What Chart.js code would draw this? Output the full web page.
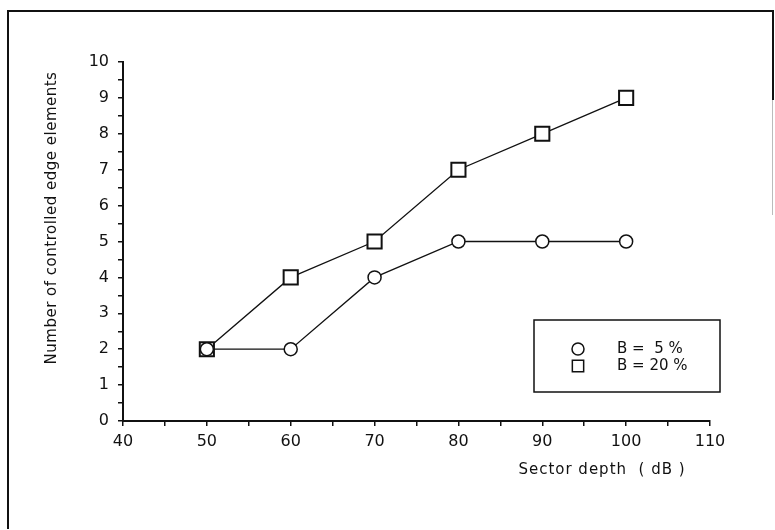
<!DOCTYPE html>
<html>
<head>
<meta charset="utf-8">
<script src="https://cdn.jsdelivr.net/npm/chart.js@4"></script>
<style>
  html, body { margin: 0; padding: 0; background: #fff; }
  #wrap { width: 775px; height: 530px; }
</style>
</head>
<body>
<div id="wrap"><canvas id="plot" width="775" height="530"></canvas></div>
<script>
// data
const depths = [50, 60, 70, 80, 90, 100];      // Sector depth (dB)
const b5 = [2, 2, 4, 5, 5, 5];                  // B = 5 %
const b20 = [2, 4, 5, 7, 8, 9];                 // B = 20 %
const seriesNames = ['B =  5 %', 'B = 20 %'];
const xTicks = [40, 50, 60, 70, 80, 90, 100, 110];
const yTicks = [0, 1, 2, 3, 4, 5, 6, 7, 8, 9, 10];

const FONT = 'DejaVu Sans';

function pts(ys) {
    return depths.map((d, i) => ({ x: d, y: ys[i] }));
}

// frame, axis titles and the boxed legend
const decor = {
    id: 'decor',
    beforeDraw(chart) {
        const c = chart.ctx;
        c.save();
        c.fillStyle = '#fff';
        c.fillRect(0, 0, chart.width, chart.height);
        c.strokeStyle = '#111';
        c.lineWidth = 2;
        c.beginPath();
        c.moveTo(8, 529);
        c.lineTo(8, 11);
        c.lineTo(773, 11);
        c.lineTo(773, 100);
        c.stroke();
        c.strokeStyle = '#bbb';
        c.lineWidth = 1;
        c.beginPath();
        c.moveTo(772.5, 100);
        c.lineTo(772.5, 215);
        c.stroke();
        c.restore();
    },
    afterDraw(chart) {
        const c = chart.ctx;
        c.save();
        c.fillStyle = '#111';
        c.font = '15px "' + FONT + '"';
        c.textBaseline = 'middle';
        c.textAlign = 'center';
        c.letterSpacing = '1px';
        c.fillText('Sector depth  ( dB )', 602, 470);
        c.letterSpacing = '0.5px';
        c.translate(52, 218);
        c.rotate(-Math.PI / 2);
        c.fillText('Number of controlled edge elements', 0, 0);
        c.restore();

        // legend box
        c.save();
        c.strokeStyle = '#111';
        c.lineWidth = 1.5;
        c.strokeRect(534, 320, 186, 72);
        c.font = '15px "' + FONT + '"';
        c.textBaseline = 'middle';
        c.textAlign = 'left';
        chart.data.datasets.forEach((ds, i) => {
            const y = 349 + i * 17;
            c.lineWidth = 1.5;
            c.strokeStyle = '#111';
            c.fillStyle = '#fff';
            Chart.helpers.drawPoint(c, {
                pointStyle: ds.pointStyle,
                radius: ds.pointStyle === 'rect' ? 8 : 6,
                rotation: 0,
                borderWidth: 1.5
            }, 578, y);
            c.fillStyle = '#111';
            c.fillText(seriesNames[i], 617, y);
        });
        c.restore();
    }
};

const ctx = document.getElementById('plot');

var chart = new Chart(ctx, {
    type: 'line',
    data: {
        datasets: [{
            label: seriesNames[0],
            data: pts(b5),
            pointStyle: 'circle',
            pointRadius: 6.5,
            borderColor: '#111',
            borderWidth: 1.3,
            pointBackgroundColor: '#fff',
            pointBorderColor: '#111',
            pointBorderWidth: 1.5
        }, {
            label: seriesNames[1],
            data: pts(b20),
            pointStyle: 'rect',
            pointRadius: 10,
            borderColor: '#111',
            borderWidth: 1.3,
            pointBackgroundColor: '#fff',
            pointBorderColor: '#111',
            pointBorderWidth: 2
        }]
    },
    options: {
        responsive: false,
        animation: false,
        layout: { padding: { top: 62, right: 65, left: 0, bottom: 0 } },
        plugins: {
            legend: { display: false },
            tooltip: { enabled: false }
        },
        scales: {
            x: {
                type: 'linear',
                min: 40,
                max: 110,
                afterFit(s) { s.height = 109; },
                border: { color: '#111', width: 2 },
                grid: { drawOnChartArea: false, tickLength: 5, color: '#111', lineWidth: 1.5 },
                ticks: {
                    stepSize: 5,
                    autoSkip: false,
                    maxRotation: 0,
                    padding: 6,
                    color: '#111',
                    font: { family: FONT, size: 16 },
                    callback: v => xTicks.includes(v) ? v : ''
                }
            },
            y: {
                min: 0,
                max: 10,
                afterFit(s) { s.width = 123; },
                border: { color: '#111', width: 2 },
                grid: { drawOnChartArea: false, tickLength: 5, color: '#111', lineWidth: 1.5 },
                ticks: {
                    stepSize: 0.5,
                    autoSkip: false,
                    padding: 9,
                    color: '#111',
                    font: { family: FONT, size: 16 },
                    callback: v => yTicks.includes(v) ? v : ''
                }
            }
        }
    },
    plugins: [decor]
});
</script>
</body>
</html>
